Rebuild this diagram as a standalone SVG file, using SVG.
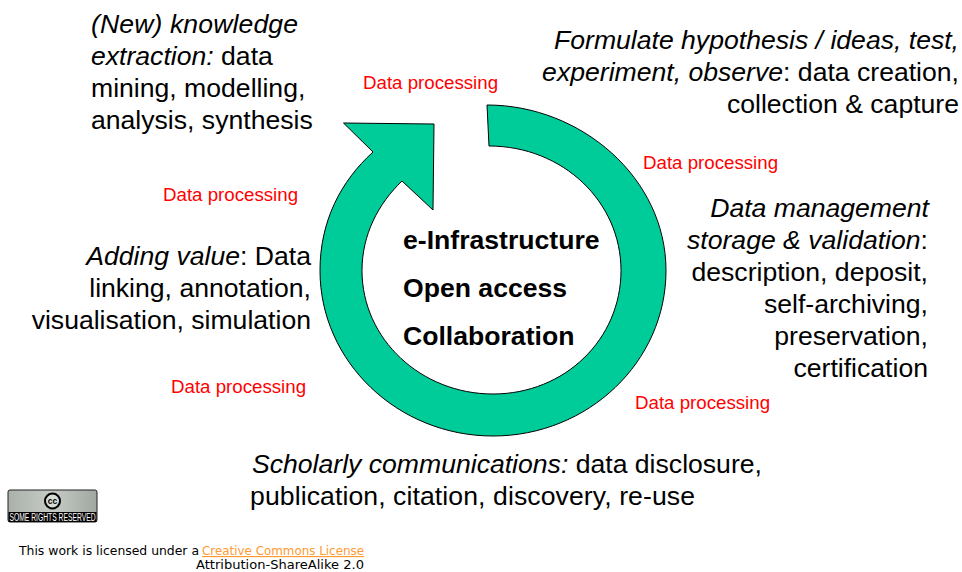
<svg xmlns="http://www.w3.org/2000/svg" width="962" height="572" viewBox="0 0 962 572">
<defs><linearGradient id="g" x1="0" y1="0" x2="1" y2="0"><stop offset="0" stop-color="#aab0aa"/><stop offset=".5" stop-color="#c6cbc6"/><stop offset="1" stop-color="#a0a6a0"/></linearGradient></defs>
<style>
text{font-family:"Liberation Sans",Arial,sans-serif;fill:#000}
.m{font-size:26.6px}
.b{font-size:26.6px;font-weight:bold}
.r{font-size:18.7px;fill:#f00}
.e{text-anchor:end}
.i{font-style:italic}
.f{font-family:"DejaVu Sans",sans-serif;font-size:11.5px}
</style>
<rect width="962" height="572" fill="#fff"/>
<g id="connectors">
<path id="cycle" d="M487 105 C581 105 666 178 666 270.500 C666 362 588 436 493 436 C398 436 320 362 320 270.500 C320 221 341 181 373 152 L343.500 123 L434 124 L433 210 L402 181 C378 204 362 235 362 270.500 C362 339 421 394 493 394 C565 394 621 339 621 270.500 C621 202 563 146 489 146 Z" fill="#00cc99" stroke="#000" stroke-width="1"/>
</g>
<g id="centre">
<text class="b" x="403" y="249">e-Infrastructure</text>
<text class="b" x="403" y="297">Open access</text>
<text class="b" x="403" y="345">Collaboration</text>
</g>
<g id="extraction">
<text class="m" x="91" y="33" textLength="207"><tspan class="i">(New) knowledge</tspan></text>
<text class="m" x="91" y="65"><tspan class="i">extraction:</tspan> data</text>
<text class="m" x="91" y="97">mining, modelling,</text>
<text class="m" x="91" y="129">analysis, synthesis</text>
</g>
<g id="hypothesis">
<text class="m e" x="959" y="49"><tspan class="i">Formulate hypothesis / ideas, test,</tspan></text>
<text class="m e" x="959" y="81"><tspan class="i">experiment, observe</tspan>: data creation,</text>
<text class="m e" x="959" y="113">collection &amp; capture</text>
</g>
<g id="management">
<text class="m e" x="929" y="217"><tspan class="i">Data management</tspan></text>
<text class="m e" x="928" y="249"><tspan class="i">storage &amp; validation</tspan>:</text>
<text class="m e" x="928" y="281">description, deposit,</text>
<text class="m e" x="928" y="313">self-archiving,</text>
<text class="m e" x="928" y="345">preservation,</text>
<text class="m e" x="928" y="377">certification</text>
</g>
<g id="value">
<text class="m e" x="311" y="265"><tspan class="i">Adding value</tspan>: Data</text>
<text class="m e" x="311" y="297">linking, annotation,</text>
<text class="m e" x="311" y="329">visualisation, simulation</text>
</g>
<g id="scholarly">
<text class="m" x="252" y="473"><tspan class="i">Scholarly communications:</tspan> data disclosure,</text>
<text class="m" x="250" y="505" textLength="445">publication, citation, discovery, re-use</text>
</g>
<g id="labels">
<text class="r" x="363" y="89">Data processing</text>
<text class="r" x="643" y="169">Data processing</text>
<text class="r" x="163" y="201">Data processing</text>
<text class="r" x="171" y="393">Data processing</text>
<text class="r" x="635" y="409">Data processing</text>
</g>
<g id="badge">
<rect x="8" y="490" width="89" height="32" rx="2" fill="url(#g)" stroke="#222" stroke-width="1"/>
<rect x="8.500" y="512" width="88" height="10" fill="#000"/>
<circle cx="52.500" cy="501" r="7.500" fill="#d8dcd8" stroke="#000" stroke-width="2"/>
<text x="52.500" y="504" text-anchor="middle" style="font-size:8.500px;font-weight:bold">cc</text>
<text x="52.500" y="520.500" text-anchor="middle" textLength="86" lengthAdjust="spacingAndGlyphs" style="font-size:10px;fill:#fff">SOME RIGHTS RESERVED</text>
</g>
<g id="licence">
<text class="f" x="19" y="555" textLength="180" lengthAdjust="spacingAndGlyphs">This work is licensed under a</text>
<text class="f" x="202" y="555" textLength="162" lengthAdjust="spacingAndGlyphs" text-decoration="underline" style="fill:#ff9933">Creative Commons License</text>
<text class="f" x="196" y="569" textLength="168" lengthAdjust="spacingAndGlyphs">Attribution-ShareAlike 2.0</text>
</g>
</svg>
